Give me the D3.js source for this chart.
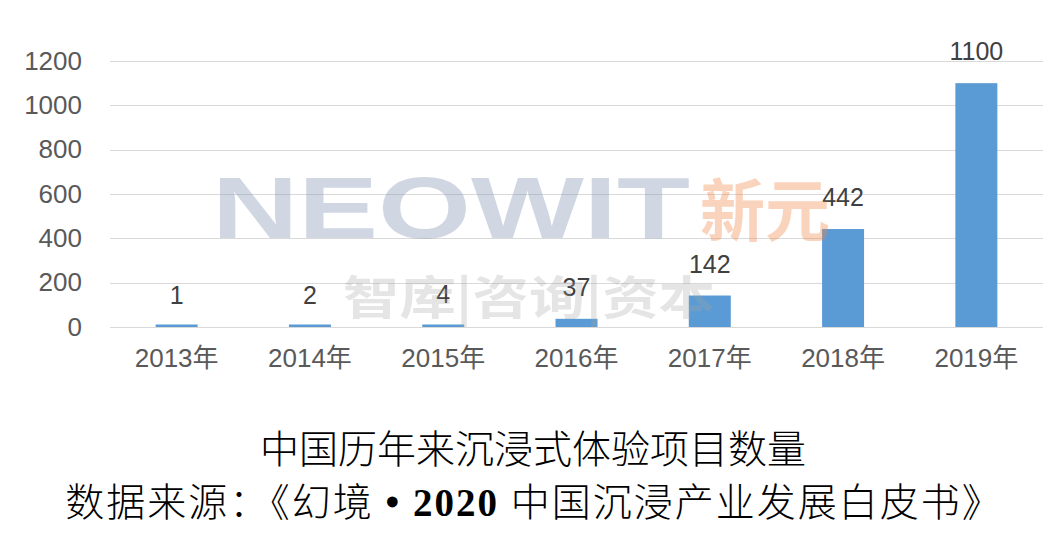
<!DOCTYPE html>
<html><head><meta charset="utf-8">
<script src="https://cdn.jsdelivr.net/npm/d3@7"></script>
<style>body{margin:0;background:#fff}svg{display:block}</style>
</head><body>
<script>
const categories = ["2013年","2014年","2015年","2016年","2017年","2018年","2019年"];
const values = [1, 2, 4, 37, 142, 442, 1100];
const yTicks = [0, 200, 400, 600, 800, 1000, 1200];
const titleLine1 = "中国历年来沉浸式体验项目数量";
const sourcePrefix = "数据来源：《幻境";
const sourceYear = " • 2020 ";
const sourceSuffix = "中国沉浸产业发展白皮书》";

const W = 1060, H = 533;
const svg = d3.select("body").append("svg").attr("width", W).attr("height", H);

const x = d3.scaleBand().domain(categories).range([110, 1043]).paddingInner(0.685).paddingOuter(0.3425);
const y = d3.scaleLinear().domain([0, 1200]).range([327, 61]);

// gridlines
svg.append("g").selectAll("line").data(yTicks).join("line")
  .attr("x1",110).attr("x2",1043)
  .attr("y1",d=>Math.round(y(d))+0.5).attr("y2",d=>Math.round(y(d))+0.5)
  .attr("stroke","#d9d9d9").attr("stroke-width",1);

// y axis labels
const yAxis = d3.axisLeft(y).tickValues(yTicks).tickFormat(d3.format("d")).tickSize(0).tickPadding(0);
const gy = svg.append("g").attr("transform","translate(82,0)").call(yAxis);
gy.select(".domain").remove();
gy.selectAll("text").attr("font-family","Liberation Sans, Arial, sans-serif")
  .attr("font-size",26).attr("fill","#595959");

// x axis labels
const xAxis = d3.axisBottom(x).tickSize(0).tickPadding(0);
const gx = svg.append("g").attr("transform","translate(0,346)").call(xAxis);
gx.select(".domain").remove();
gx.selectAll("text").attr("font-family","Liberation Sans, Arial, 'Noto Sans CJK SC', sans-serif")
  .attr("font-size",26).attr("fill","#595959").attr("dy","0.8em");

// bars
svg.append("g").selectAll("rect").data(values).join("rect")
  .attr("x",(d,i)=>x(categories[i]))
  .attr("width",x.bandwidth())
  .attr("y",d=>Math.min(y(d), y(0)-2.5))
  .attr("height",d=>Math.max(y(0)-y(d), 2.5))
  .attr("fill","#5b9bd5");

// value labels
svg.append("g").selectAll("text").data(values).join("text")
  .attr("x",(d,i)=>x(categories[i])+x.bandwidth()/2)
  .attr("y",d=>y(d)-23)
  .attr("text-anchor","middle")
  .attr("font-family","Liberation Sans, Arial, sans-serif")
  .attr("font-size",25).attr("fill","#404040")
  .text(d=>d);

// watermark (semi-transparent overlay)
const wm = svg.append("g").attr("class","watermark");
wm.append("text").attr("x",212).attr("y",238).text("NEOWIT")
  .attr("font-family","Liberation Sans, Arial, sans-serif").attr("font-weight","bold")
  .attr("font-size",88).attr("textLength",478).attr("lengthAdjust","spacingAndGlyphs")
  .attr("fill","#8a9bb8").attr("fill-opacity",0.4);
wm.append("text").attr("x",700).attr("y",236).text("新元")
  .attr("font-family","Noto Sans CJK SC").attr("font-weight","bold")
  .attr("font-size",68).attr("textLength",130).attr("lengthAdjust","spacingAndGlyphs")
  .attr("fill","#f08040").attr("fill-opacity",0.35);
wm.append("text").attr("x",343).attr("y",314).text("智库|咨询|资本")
  .attr("font-family","Noto Sans CJK SC").attr("font-weight","bold")
  .attr("font-size",46).attr("textLength",372).attr("lengthAdjust","spacingAndGlyphs")
  .attr("fill","#a0a0a0").attr("fill-opacity",0.28);

// titles
svg.append("text").attr("x",533).attr("y",463).attr("text-anchor","middle")
  .attr("font-family","'Noto Sans CJK SC'").attr("font-weight",300)
  .attr("font-size",39).attr("fill","#000").text(titleLine1);
const t2 = svg.append("text").attr("x",534).attr("y",516).attr("text-anchor","middle")
  .attr("font-family","'Noto Sans CJK SC'").attr("font-weight",300)
  .attr("font-size",39).attr("letter-spacing",2).attr("fill","#000");
t2.append("tspan").text(sourcePrefix);
t2.append("tspan").attr("font-family","Liberation Serif, 'Times New Roman', serif").attr("font-weight","bold").text(sourceYear);
t2.append("tspan").text(sourceSuffix);
</script>
</body></html>
